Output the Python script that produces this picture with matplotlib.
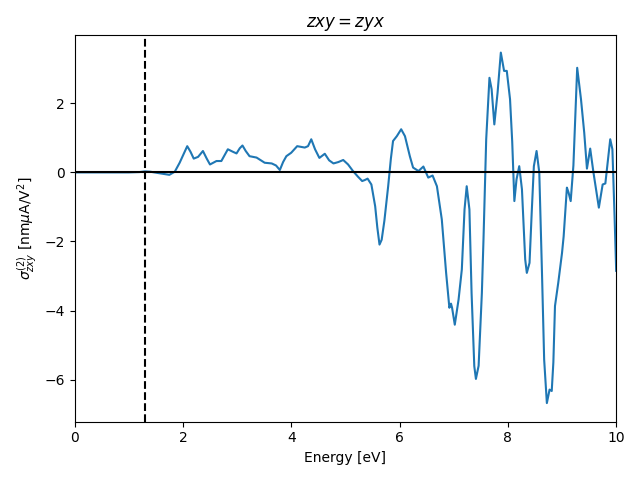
import numpy as np
import matplotlib
matplotlib.use("Agg")
import matplotlib.pyplot as plt

# Energy points [eV] and sigma values
energy = [0.0, 0.5, 1.0, 1.2, 1.3, 1.4, 1.55, 1.75, 1.85, 1.94, 2.02, 2.08, 2.14, 2.20,
          2.28, 2.37, 2.44, 2.50, 2.62, 2.71, 2.77, 2.83, 2.92, 2.99, 3.05, 3.10, 3.16,
          3.23, 3.36, 3.51, 3.64, 3.72, 3.79, 3.85, 3.91, 4.00, 4.11, 4.25, 4.31, 4.37,
          4.44, 4.52, 4.62, 4.70, 4.78, 4.87, 4.96, 5.05, 5.14, 5.23, 5.31, 5.36, 5.41,
          5.48, 5.55, 5.59, 5.63, 5.67, 5.72, 5.79, 5.84, 5.88, 5.95, 6.03, 6.10, 6.19,
          6.25, 6.35, 6.44, 6.53, 6.61, 6.69, 6.78, 6.86, 6.92, 6.95, 6.97, 7.02, 7.09,
          7.15, 7.20, 7.24, 7.29, 7.33, 7.38, 7.41, 7.46, 7.49, 7.52, 7.55, 7.60, 7.66,
          7.70, 7.75, 7.81, 7.87, 7.93, 7.98, 8.04, 8.08, 8.12, 8.16, 8.21, 8.26, 8.32,
          8.35, 8.40, 8.44, 8.48, 8.53, 8.58, 8.63, 8.67, 8.72, 8.77, 8.81, 8.84, 8.87,
          8.93, 9.00, 9.03, 9.09, 9.12, 9.16, 9.21, 9.28, 9.35, 9.41, 9.46, 9.52, 9.58,
          9.68, 9.75, 9.80, 9.89, 9.93, 9.97, 10.0]
sigma = [0.0, 0.0, 0.0, 0.01, 0.03, 0.02, -0.02, -0.07, 0.02, 0.28, 0.55, 0.76, 0.6, 0.40,
         0.45, 0.62, 0.40, 0.23, 0.33, 0.33, 0.5, 0.67, 0.6, 0.55, 0.7, 0.78, 0.62,
         0.47, 0.43, 0.28, 0.26, 0.2, 0.07, 0.3, 0.47, 0.57, 0.76, 0.72, 0.76, 0.96,
         0.67, 0.42, 0.54, 0.35, 0.26, 0.3, 0.36, 0.23, 0.04, -0.12, -0.25, -0.22, -0.18,
         -0.35, -0.98, -1.6, -2.09, -1.95, -1.4, -0.40, 0.4, 0.91, 1.05, 1.25, 1.05, 0.47,
         0.14, 0.04, 0.17, -0.15, -0.09, -0.40, -1.36, -2.91, -3.92, -3.80, -3.92, -4.41, -3.68,
         -2.81, -1.07, -0.40, -1.07, -3.49, -5.61, -5.98, -5.6, -4.55, -3.49, -1.94, 0.96, 2.74,
         2.41, 1.39, 2.31, 3.47, 2.94, 2.94, 2.12, 0.9, -0.83, -0.20, 0.18, -0.49, -2.52,
         -2.91, -2.62, -1.17, 0.18, 0.62, 0.0, -2.91, -5.42, -6.68, -6.29, -6.33, -5.5, -3.87,
         -3.20, -2.33, -1.85, -0.44, -0.58, -0.83, 0.2, 3.03, 2.12, 1.15, 0.11, 0.69, 0.0,
         -1.02, -0.35, -0.32, 0.96, 0.67, -1.27, -2.85]

gap = 1.3

fig, ax = plt.subplots(figsize=(6.4, 4.8), dpi=100)
ax.plot(energy, sigma, color='tab:blue')
ax.axhline(0, color='k')
ax.axvline(gap, color='k', linestyle='--')
ax.set_xlim(0, 10)
ax.set_ylim(-7.22, 3.97)
ax.set_xlabel('Energy [eV]')
ax.set_ylabel(r'$\sigma^{(2)}_{zxy}$ [nm$\mu$A/V$^2$]')
ax.set_title(r'$zxy = zyx$')
fig.tight_layout()
fig.savefig('out.png')
